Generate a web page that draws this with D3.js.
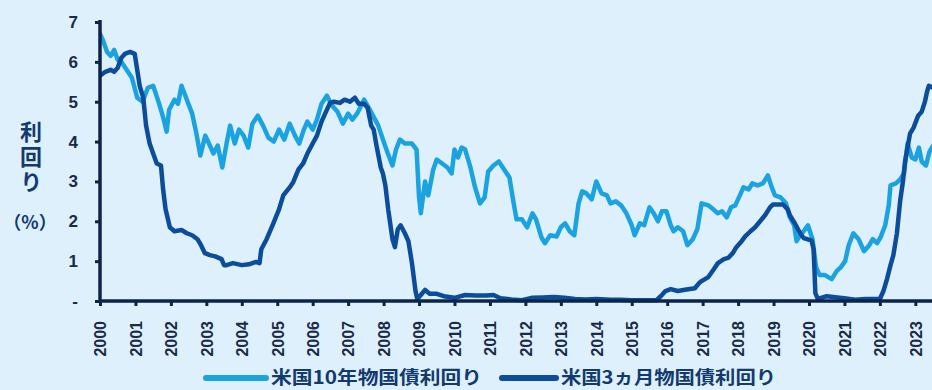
<!DOCTYPE html>
<html>
<head>
<meta charset="utf-8">
<script src="https://cdn.jsdelivr.net/npm/d3@7"></script>
<style>
  html, body { margin: 0; padding: 0; background: #def0fb; }
  svg { display: block; }
</style>
</head>
<body>
<svg id="chart" width="932" height="390"></svg>
<script>
// ---- DATA ----
const years = d3.range(2000, 2024);           // x tick labels
const yTicks = [0, 1, 2, 3, 4, 5, 6, 7];      // y tick values
const seriesNames = ["米国10年物国債利回り", "米国3ヵ月物国債利回り"];

// 10-year treasury yield (decimal year, %)
const t10 = [2000.00,2000.08,2000.20,2000.30,2000.40,2000.50,2000.60,2000.75,2000.90,2001.05,2001.20,2001.35,2001.50,2001.65,2001.80,2001.88,2001.95,2002.10,2002.20,2002.30,2002.45,2002.60,2002.72,2002.83,2002.97,2003.10,2003.20,2003.32,2003.45,2003.58,2003.67,2003.80,2003.92,2004.05,2004.18,2004.30,2004.45,2004.60,2004.75,2004.90,2005.05,2005.20,2005.35,2005.50,2005.62,2005.75,2005.85,2006.00,2006.12,2006.25,2006.40,2006.55,2006.70,2006.85,2007.00,2007.12,2007.25,2007.45,2007.58,2007.70,2007.85,2008.00,2008.12,2008.25,2008.35,2008.46,2008.60,2008.80,2008.93,2009.00,2009.05,2009.17,2009.26,2009.40,2009.50,2009.65,2009.80,2009.92,2010.00,2010.10,2010.20,2010.30,2010.45,2010.58,2010.72,2010.85,2010.95,2011.10,2011.25,2011.40,2011.55,2011.65,2011.75,2011.90,2012.05,2012.20,2012.30,2012.45,2012.55,2012.70,2012.88,2013.00,2013.12,2013.25,2013.38,2013.50,2013.60,2013.72,2013.87,2014.00,2014.15,2014.30,2014.40,2014.55,2014.70,2014.85,2015.00,2015.08,2015.23,2015.35,2015.50,2015.62,2015.74,2015.85,2015.98,2016.10,2016.18,2016.30,2016.45,2016.57,2016.72,2016.85,2016.97,2017.16,2017.30,2017.43,2017.55,2017.68,2017.80,2017.92,2018.05,2018.15,2018.30,2018.40,2018.55,2018.70,2018.84,2018.95,2019.04,2019.20,2019.35,2019.46,2019.58,2019.65,2019.75,2019.85,2019.97,2020.10,2020.20,2020.30,2020.45,2020.64,2020.78,2020.90,2021.02,2021.12,2021.25,2021.40,2021.55,2021.70,2021.80,2021.92,2022.02,2022.15,2022.25,2022.30,2022.45,2022.57,2022.68,2022.78,2022.90,2023.00,2023.10,2023.18,2023.30,2023.40,2023.50];
const y10 = [6.70,6.55,6.25,6.15,6.30,6.05,6.00,5.80,5.60,5.10,5.00,5.35,5.40,5.00,4.55,4.25,4.80,5.05,4.95,5.40,5.05,4.70,4.20,3.65,4.15,3.90,3.70,3.90,3.35,4.00,4.40,3.95,4.30,4.15,3.85,4.45,4.65,4.40,4.10,4.00,4.30,4.05,4.45,4.15,3.95,4.30,4.50,4.30,4.55,4.95,5.15,4.90,4.75,4.45,4.70,4.55,4.70,5.05,4.85,4.65,4.40,4.00,3.70,3.40,3.80,4.05,3.95,3.95,3.80,2.60,2.20,3.00,2.65,3.30,3.55,3.45,3.35,3.20,3.80,3.60,3.85,3.80,3.35,2.85,2.45,2.60,3.25,3.40,3.50,3.30,3.10,2.55,2.05,2.05,1.85,2.20,2.05,1.60,1.45,1.65,1.62,1.85,1.95,1.75,1.65,2.45,2.75,2.70,2.55,3.00,2.70,2.65,2.45,2.50,2.40,2.20,1.90,1.65,1.95,1.90,2.35,2.20,2.00,2.25,2.25,1.90,1.75,1.85,1.75,1.40,1.55,1.80,2.45,2.40,2.30,2.20,2.25,2.10,2.35,2.40,2.65,2.85,2.80,2.95,2.90,2.95,3.15,2.85,2.65,2.60,2.45,2.10,1.90,1.50,1.65,1.75,1.90,1.55,0.85,0.65,0.65,0.55,0.75,0.85,1.00,1.40,1.70,1.55,1.25,1.40,1.55,1.45,1.60,1.90,2.40,2.90,2.95,3.05,3.20,3.95,3.60,3.55,3.85,3.50,3.40,3.75,3.90];

// 3-month treasury bill yield (decimal year, %)
const t3m = [2000.00,2000.15,2000.30,2000.40,2000.50,2000.60,2000.70,2000.85,2000.98,2001.05,2001.12,2001.22,2001.30,2001.40,2001.50,2001.60,2001.72,2001.78,2001.85,2001.97,2002.10,2002.30,2002.45,2002.60,2002.75,2002.85,2002.96,2003.10,2003.25,2003.43,2003.50,2003.57,2003.75,2004.00,2004.20,2004.40,2004.50,2004.55,2004.70,2004.89,2005.05,2005.17,2005.35,2005.45,2005.60,2005.73,2005.85,2006.00,2006.12,2006.25,2006.35,2006.49,2006.60,2006.77,2006.90,2007.05,2007.19,2007.30,2007.45,2007.55,2007.65,2007.72,2007.80,2007.92,2007.98,2008.05,2008.13,2008.25,2008.32,2008.40,2008.48,2008.60,2008.70,2008.80,2008.90,2008.95,2009.05,2009.17,2009.30,2009.50,2009.70,2010.00,2010.30,2010.60,2010.90,2011.10,2011.30,2011.60,2011.90,2012.20,2012.50,2012.80,2013.10,2013.40,2013.70,2014.00,2014.40,2014.70,2015.00,2015.40,2015.70,2015.85,2015.95,2016.10,2016.30,2016.50,2016.78,2016.90,2016.97,2017.16,2017.30,2017.43,2017.60,2017.72,2017.85,2017.95,2018.10,2018.20,2018.35,2018.48,2018.62,2018.76,2018.90,2018.98,2019.10,2019.27,2019.40,2019.46,2019.60,2019.75,2019.85,2019.95,2020.07,2020.13,2020.18,2020.25,2020.50,2020.80,2021.00,2021.30,2021.60,2021.90,2022.00,2022.10,2022.20,2022.30,2022.38,2022.48,2022.57,2022.65,2022.71,2022.80,2022.85,2022.95,2023.08,2023.18,2023.27,2023.33,2023.38,2023.50];
const y3m = [5.65,5.75,5.80,5.75,5.85,6.10,6.20,6.25,6.20,5.80,5.40,5.10,4.40,3.95,3.70,3.45,3.40,2.80,2.30,1.85,1.75,1.78,1.70,1.65,1.55,1.40,1.20,1.15,1.12,1.05,0.90,0.90,0.95,0.90,0.92,0.98,0.95,1.30,1.55,1.95,2.30,2.65,2.85,2.98,3.30,3.45,3.70,3.95,4.15,4.50,4.70,4.97,5.00,4.97,5.05,5.00,5.10,4.95,4.95,4.85,4.40,4.30,3.90,3.35,3.20,2.90,2.30,1.55,1.35,1.80,1.90,1.70,1.50,0.95,0.25,0.05,0.15,0.28,0.18,0.18,0.12,0.08,0.15,0.14,0.14,0.15,0.07,0.04,0.02,0.08,0.09,0.10,0.08,0.05,0.04,0.05,0.03,0.03,0.02,0.02,0.02,0.15,0.25,0.30,0.25,0.28,0.32,0.45,0.50,0.60,0.78,0.95,1.05,1.08,1.20,1.35,1.50,1.62,1.75,1.85,2.00,2.15,2.35,2.42,2.42,2.42,2.30,2.15,1.95,1.70,1.58,1.55,1.52,1.30,0.20,0.05,0.12,0.09,0.07,0.03,0.05,0.05,0.05,0.25,0.55,0.90,1.15,1.70,2.50,3.00,3.50,3.95,4.20,4.35,4.65,4.75,5.00,5.25,5.40,5.35];

// ---- CHART ----
const W = 932, H = 390;
const mLeft = 100, mRight = 932, mTop = 22, mBottom = 301;
const svg = d3.select("#chart");

const x = d3.scaleLinear().domain([2000, 2023.47]).range([mLeft, mRight]);
const y = d3.scaleLinear().domain([0, 7]).range([mBottom, mTop]);

const navy = "#0b2548";
const labelColor = "#1a2a48";
const cLight = "#1ba2e0";
const cDark = "#0b4d9b";

// lines
const line = d3.line().x(d => x(d[0])).y(d => y(d[1]));
const d10 = t10.map((t, i) => [t, y10[i]]);
const d3mData = t3m.map((t, i) => [t, y3m[i]]);

svg.append("defs").append("clipPath").attr("id", "clip")
  .append("rect").attr("x", mLeft).attr("y", 0).attr("width", mRight - mLeft).attr("height", H);

const g = svg.append("g").attr("clip-path", "url(#clip)");
g.append("path").datum(d10).attr("d", line)
  .attr("fill", "none").attr("stroke", cLight).attr("stroke-width", 4.5)
  .attr("stroke-linejoin", "round").attr("stroke-linecap", "round");
g.append("path").datum(d3mData).attr("d", line)
  .attr("fill", "none").attr("stroke", cDark).attr("stroke-width", 4.5)
  .attr("stroke-linejoin", "round").attr("stroke-linecap", "round");

// y axis
const yAxis = d3.axisLeft(y).tickValues(yTicks)
  .tickFormat(d => d === 0 ? "-" : String(d))
  .tickSize(5).tickPadding(17);
const ya = svg.append("g").attr("transform", `translate(${mLeft},0)`).call(yAxis);
ya.select(".domain").attr("stroke", navy).attr("stroke-width", 3.5)
  .attr("d", `M0,${mTop - 2}V${mBottom}`);
ya.selectAll(".tick line").attr("stroke", navy).attr("stroke-width", 3);
ya.selectAll(".tick text").attr("fill", labelColor)
  .style("font-family", "Liberation Sans, Arial, sans-serif")
  .style("font-weight", "bold").style("font-size", "17px");

// x axis
const xAxis = d3.axisBottom(x).tickValues(years).tickFormat(d3.format("d"))
  .tickSize(5).tickPadding(0);
const xa = svg.append("g").attr("transform", `translate(0,${mBottom})`).call(xAxis);
xa.select(".domain").attr("stroke", navy).attr("stroke-width", 3.5)
  .attr("d", `M${mLeft},0H${mRight}`);
xa.selectAll(".tick line").attr("stroke", navy).attr("stroke-width", 3);
xa.selectAll(".tick text")
  .attr("fill", labelColor)
  .attr("transform", "translate(0,20) rotate(-90)")
  .attr("text-anchor", "end")
  .attr("x", 0).attr("y", 0).attr("dy", "0.36em")
  .style("font-family", "Liberation Sans, Arial, sans-serif")
  .style("font-weight", "bold").style("font-size", "16px");

// y title
const titleFont = "'Noto Sans CJK JP', sans-serif";
const yt = svg.append("g").attr("fill", "#123a6e")
  .style("font-family", titleFont).style("font-weight", "bold");
yt.append("text").attr("x", 31).attr("y", 121)
  .style("writing-mode", "vertical-rl")
  .style("letter-spacing", "3px")
  .style("font-size", "22px").text("利回り");
yt.append("text").attr("x", 30).attr("y", 229).attr("text-anchor", "middle")
  .style("font-size", "18px").text("（%）");

// legend
const legend = svg.append("g");
const items = [
  { name: seriesNames[0], color: cLight, x0: 206, x1: 266, tx: 271, tl: 211 },
  { name: seriesNames[1], color: cDark, x0: 502, x1: 556, tx: 561, tl: 215 }
];
items.forEach(it => {
  legend.append("line").attr("x1", it.x0).attr("x2", it.x1)
    .attr("y1", 378).attr("y2", 378)
    .attr("stroke", it.color).attr("stroke-width", 6).attr("stroke-linecap", "round");
  legend.append("text").attr("x", it.tx).attr("y", 384)
    .attr("fill", "#123a6e")
    .attr("textLength", it.tl).attr("lengthAdjust", "spacingAndGlyphs")
    .style("font-family", titleFont).style("font-weight", "bold").style("font-size", "18px")
    .text(it.name);
});
</script>
</body>
</html>
